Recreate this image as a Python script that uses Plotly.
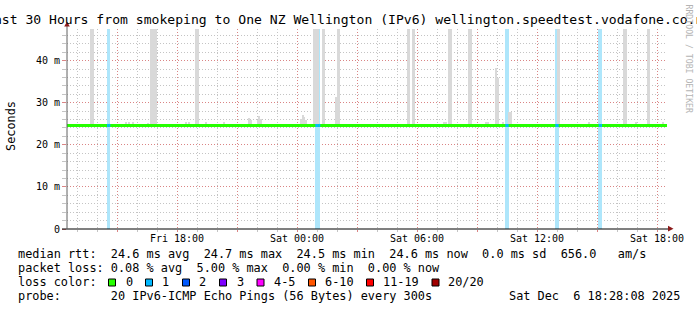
import pandas as pd
import plotly.graph_objects as go

# ---------------- data ----------------
start_time = "2025-12-05 12:30"
end_time = "2025-12-06 18:30"
step_minutes = 5
y_top_ms = 47.5

median_rtt_ms = 24.6
smoke_min_ms = 24.5

# max rtt (ms) per 5-minute step where the smoke rises above the median band
# (values above the chart top are drawn clipped)
smoke_times = [
    "2025-12-05 13:40", "2025-12-05 13:45",
    "2025-12-05 15:25", "2025-12-05 15:35", "2025-12-05 15:45",
    "2025-12-05 16:30",
    "2025-12-05 16:40", "2025-12-05 16:45", "2025-12-05 16:50", "2025-12-05 16:55",
    "2025-12-05 18:25", "2025-12-05 18:35",
    "2025-12-05 18:55", "2025-12-05 19:00",
    "2025-12-05 19:25", "2025-12-05 20:20",
    "2025-12-05 21:35", "2025-12-05 21:40",
    "2025-12-05 22:00", "2025-12-05 22:05", "2025-12-05 22:10",
    "2025-12-06 00:10", "2025-12-06 00:15", "2025-12-06 00:20", "2025-12-06 00:25",
    "2025-12-06 00:50", "2025-12-06 00:55", "2025-12-06 01:00",
    "2025-12-06 01:15", "2025-12-06 01:20",
    "2025-12-06 01:55", "2025-12-06 02:00", "2025-12-06 02:05",
    "2025-12-06 05:30", "2025-12-06 05:35",
    "2025-12-06 05:45", "2025-12-06 05:50",
    "2025-12-06 07:20", "2025-12-06 07:25",
    "2025-12-06 07:35", "2025-12-06 07:40",
    "2025-12-06 08:35", "2025-12-06 08:40",
    "2025-12-06 09:25", "2025-12-06 09:30",
    "2025-12-06 09:55", "2025-12-06 10:00",
    "2025-12-06 10:15",
    "2025-12-06 10:35", "2025-12-06 10:40",
    "2025-12-06 13:00", "2025-12-06 13:05",
    "2025-12-06 14:35",
    "2025-12-06 16:20", "2025-12-06 16:25",
    "2025-12-06 16:55",
    "2025-12-06 17:30", "2025-12-06 17:35",
    "2025-12-06 18:15",
]
smoke_max_ms = [
    55.0, 55.0,
    25.3, 25.3, 25.3,
    25.2,
    55.0, 55.0, 55.0, 55.0,
    25.3, 25.3,
    55.0, 55.0,
    25.4, 25.3,
    26.3, 25.8,
    26.0, 26.8, 26.2,
    26.2, 27.0, 26.5, 25.8,
    55.0, 55.0, 55.0,
    55.0, 55.0,
    31.4, 55.0, 55.0,
    55.0, 55.0,
    55.0, 55.0,
    25.3, 25.4,
    55.0, 55.0,
    55.0, 55.0,
    25.4, 25.3,
    38.2, 35.9,
    25.4,
    27.8, 27.8,
    55.0, 55.0,
    25.3,
    55.0, 55.0,
    25.5,
    55.0, 55.0,
    25.3,
]

# steps with lost pings (count out of 20)
loss_times = [
    "2025-12-05 14:30", "2025-12-05 14:35",
    "2025-12-06 00:55", "2025-12-06 01:00", "2025-12-06 01:05",
    "2025-12-06 10:25", "2025-12-06 10:30",
    "2025-12-06 12:55", "2025-12-06 13:00",
    "2025-12-06 15:05", "2025-12-06 15:10",
]
loss_counts = [1, 1, 1, 1, 1, 1, 1, 1, 1, 1, 1]

y_tick_values = [0, 10, 20, 30, 40]
y_tick_labels = ["0", "10 m", "20 m", "30 m", "40 m"]

x_tick_values = [
    "2025-12-05 15:00", "2025-12-05 18:00", "2025-12-05 21:00",
    "2025-12-06 00:00", "2025-12-06 03:00", "2025-12-06 06:00",
    "2025-12-06 09:00", "2025-12-06 12:00", "2025-12-06 15:00",
    "2025-12-06 18:00",
]
x_tick_labels = ["", "Fri 18:00", "", "Sat 00:00", "", "Sat 06:00", "",
                 "Sat 12:00", "", "Sat 18:00"]

loss_legend_labels = ["0", "1", "2", "3", "4-5", "6-10", "11-19", "20/20"]
loss_legend_colors = ["#26ff00", "#00b8ff", "#0059ff", "#7e00ff",
                      "#ff00ff", "#ff5500", "#ff0000", "#a10000"]
loss_legend_upper = [0, 1, 2, 3, 5, 10, 19, 20]

title_text = ("Last 30 Hours from smokeping to One NZ Wellington (IPv6) "
              "wellington.speedtest.vodafone.co.nz")
stats_rtt = ("median rtt:  24.6 ms avg  24.7 ms max  24.5 ms min  "
             "24.6 ms now  0.0 ms sd  656.0   am/s")
stats_loss = "packet loss: 0.08 % avg  5.00 % max  0.00 % min  0.00 % now"
probe_text = "probe:       20 IPv6-ICMP Echo Pings (56 Bytes) every 300s"
date_text = "Sat Dec  6 18:28:08 2025"
watermark = "RRDTOOL / TOBI OETIKER"

# ---------------- styling / layout ----------------
W, H = 697, 310
L, R, T, B = 67, 30, 29, 81
PW, PH = W - L - R, H - T - B
MONO = "DejaVu Sans Mono"
SMOKE = "#d9d9d9"
LOSS_BACK = "#aee6fb"
MEDIAN_GREEN = "#26ff00"
ARROW = "#8b1a1a"
MAJ_GRID = "rgba(240,70,70,0.5)"
MIN_GRID = "#c4c4c4"
DOTS = "1px,2px"


def px(x):
    return (x - L) / PW


def py(y):
    return (H - B - y) / PH


def nb(s):
    return s.replace(" ", "\u00a0")


def loss_color(n):
    for up, c in zip(loss_legend_upper, loss_legend_colors):
        if n <= up:
            return c
    return loss_legend_colors[-1]


step = pd.Timedelta(minutes=step_minutes)
step_ms = step.total_seconds() * 1000

fig = go.Figure()

# loss background stripes
fig.add_trace(go.Bar(
    x=[pd.Timestamp(t) + step / 2 for t in loss_times],
    y=[y_top_ms] * len(loss_times), base=0, width=step_ms,
    marker=dict(color=LOSS_BACK, line_width=0), hoverinfo="skip"))

# smoke
fig.add_trace(go.Bar(
    x=[pd.Timestamp(t) + step / 2 for t in smoke_times],
    y=[m - smoke_min_ms for m in smoke_max_ms], base=smoke_min_ms,
    width=step_ms, marker=dict(color=SMOKE, line_width=0)))

# median line
fig.add_trace(go.Scatter(
    x=[start_time, end_time], y=[median_rtt_ms, median_rtt_ms],
    mode="lines", line=dict(color=MEDIAN_GREEN, width=3)))

# loss-coloured median segments
for t, n in zip(loss_times, loss_counts):
    t0 = pd.Timestamp(t)
    fig.add_trace(go.Scatter(
        x=[t0, t0 + step], y=[median_rtt_ms, median_rtt_ms],
        mode="lines", line=dict(color=loss_color(n), width=3)))

shapes = [
    # x axis line
    dict(type="line", xref="paper", yref="paper", x0=px(62), x1=px(668),
         y0=0, y1=0, line=dict(color="black", width=1)),
    # y axis line
    dict(type="line", xref="paper", yref="paper", x0=0, x1=0,
         y0=0, y1=py(26), line=dict(color="#606060", width=1)),
    # arrows
    dict(type="path", xref="paper", yref="paper",
         path=f"M {px(668)} {py(225.8)} L {px(668)} {py(231.6)} L {px(673.5)} {py(228.7)} Z",
         fillcolor=ARROW, line=dict(width=0)),
    dict(type="path", xref="paper", yref="paper",
         path=f"M {px(64.2)} {py(26.5)} L {px(69.8)} {py(26.5)} L {px(67)} {py(21.5)} Z",
         fillcolor=ARROW, line=dict(width=0)),
]

sq_left = [108.5, 145.5, 182.5, 219.5, 257.0, 308.5, 366.5, 432.0]
lab_left = [124.0, 160.6, 197.7, 235.0, 272.6, 323.5, 381.5, 446.2]
for xl, c in zip(sq_left, loss_legend_colors):
    shapes.append(dict(type="rect", xref="paper", yref="paper",
                       x0=px(xl), x1=px(xl + 7), y0=py(286), y1=py(279),
                       fillcolor=c, line=dict(color="black", width=1)))

FS = 11.86
ann = []


def text(s, x, y, size=FS, xanchor="left", color="black", angle=0):
    ann.append(dict(text=nb(s), x=px(x), y=py(y), xref="paper", yref="paper",
                    xanchor=xanchor, yanchor="middle", showarrow=False,
                    textangle=angle,
                    font=dict(family=MONO, size=size, color=color)))


text(title_text, 348.5, 19.5, size=13.1, xanchor="center")
text(stats_rtt, 15.5, 254.3)
text(stats_loss, 15.5, 268.3)
text("loss color:", 15.5, 282.3)
for xl, lab in zip(lab_left, loss_legend_labels):
    text(lab, xl - 0.5, 282.3)
text(probe_text, 15.5, 296.2)
text(date_text, 682, 296.2, xanchor="right")
text("Seconds", 11, 126, angle=-90, xanchor="center")
text(watermark, 688.5, 59, size=8.2, color="#b4b4b4", angle=90, xanchor="center")

fig.update_layout(
    width=W, height=H, margin=dict(l=L, r=R, t=T, b=B, pad=0),
    paper_bgcolor="white", plot_bgcolor="white", showlegend=False,
    barmode="overlay", bargap=0,
    font=dict(family=MONO, size=10, color="black"),
    shapes=shapes, annotations=ann,
    xaxis=dict(
        type="date", range=[start_time, end_time],
        tickmode="array", tickvals=x_tick_values, ticktext=x_tick_labels,
        showgrid=True, gridcolor=MAJ_GRID, griddash=DOTS, gridwidth=1,
        ticks="outside", ticklen=2, tickcolor=MAJ_GRID,
        ticklabelstandoff=-2,
        showline=False, zeroline=False,
        tickfont=dict(family=MONO, size=10, color="black"),
        minor=dict(tickmode="linear", tick0="2025-12-05 13:00", dtick=3600000,
                   showgrid=True, gridcolor=MIN_GRID, griddash=DOTS,
                   ticks="outside", ticklen=2, tickcolor=MIN_GRID),
    ),
    yaxis=dict(
        range=[0, y_top_ms],
        tickmode="array", tickvals=y_tick_values, ticktext=y_tick_labels,
        showgrid=True, gridcolor=MAJ_GRID, griddash=DOTS, gridwidth=1,
        ticks="outside", ticklen=4, tickcolor=MAJ_GRID,
        showline=False, zeroline=False,
        tickfont=dict(family=MONO, size=10, color="black"),
        minor=dict(tickmode="linear", tick0=0, dtick=2,
                   showgrid=True, gridcolor=MIN_GRID, griddash=DOTS,
                   ticks="outside", ticklen=4, tickcolor=MIN_GRID),
    ),
)

fig.write_html("out.html")
